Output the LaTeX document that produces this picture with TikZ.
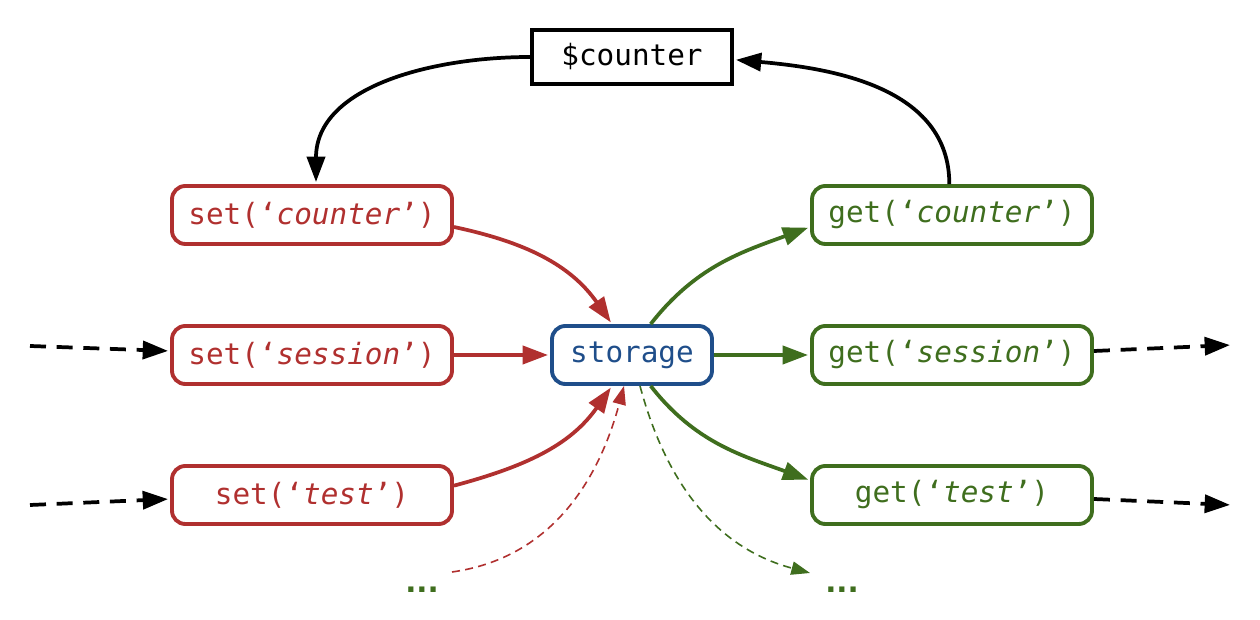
\documentclass[tikz,border=0pt]{standalone}
\usepackage{fontspec}
\setmonofont{DejaVu Sans Mono}
\newfontfamily\dotsfont{DejaVu Sans}
\usetikzlibrary{arrows.meta}
\definecolor{cred}{HTML}{B0302F}
\definecolor{cblue}{HTML}{1F4E8A}
\definecolor{cgreen}{HTML}{3F6E1E}
\begin{document}
\begin{tikzpicture}[x=0.75pt,y=0.75pt,
  box/.style={draw,line width=2.9pt,rounded corners=10pt,minimum width=210pt,minimum height=43.5pt,inner sep=0pt,font=\fontsize{22}{26}\selectfont\ttfamily},
  setbox/.style={box,draw=cred,text=cred},
  getbox/.style={box,draw=cgreen,text=cgreen},
  arr/.style={line width=2.8pt,shorten >=1.5pt,-{Triangle[length=19pt,width=13.5pt]}},
  thinarr/.style={line width=1.2pt,dash pattern=on 6pt off 4pt,-{Triangle[length=14pt,width=10pt]}},
  blackdash/.style={line width=2.8pt,dash pattern=on 12pt off 8pt,shorten >=1.5pt,-{Triangle[length=19pt,width=13.5pt]}},
  dots/.style={text=cgreen,font=\fontsize{22}{26}\selectfont\dotsfont\bfseries}
]
\useasboundingbox (0,0) rectangle (1260,620);
\node[draw,line width=2.9pt,minimum width=150pt,minimum height=41pt,inner sep=0pt,font=\fontsize{22}{26}\selectfont\ttfamily] (ctr) at (632,563) {\$counter};
\node[setbox] (setC) at (312,405) {set(‘\textit{counter}’)};
\node[setbox] (setS) at (312,265) {set(‘\textit{session}’)};
\node[setbox] (setT) at (312,125) {set(‘\textit{test}’)};
\node[box,draw=cblue,text=cblue,minimum width=120pt] (sto) at (632,265) {storage};
\node[getbox] (getC) at (952,405) {get(‘\textit{counter}’)};
\node[getbox] (getS) at (952,265) {get(‘\textit{session}’)};
\node[getbox] (getT) at (952,125) {get(‘\textit{test}’)};
\node[dots] (dL) at (422,30) {...};
\node[dots] (dR) at (842,30) {...};
\coordinate (lS) at (30,274);
\coordinate (lT) at (30,115);
\coordinate (rS) at (1232,275);
\coordinate (rT) at (1232,115);
\coordinate (redS) at (452,48);
\coordinate (grE) at (810,47);
% black
\draw[arr] (ctr.west) to[out=180,in=90] ([xshift=3pt]setC.north);
\draw[arr] ([xshift=-2pt]getC.north) to[out=90,in=-5] ([yshift=-2pt]ctr.east);
% red
\draw[arr,cred] ([yshift=-9pt]setC.east) to[out=-12,in=125] ([xshift=-15pt]sto.north);
\draw[arr,cred] (setS.east) -- (sto.west);
\draw[arr,cred] ([yshift=7pt]setT.east) to[out=15,in=-125] ([xshift=-15pt]sto.south);
\draw[thinarr,cred] (redS) to[out=8,in=-105] ([xshift=-6pt]sto.south);
% green
\draw[arr,cgreen] ([xshift=14pt]sto.north) to[out=52,in=200] ([yshift=-9pt]getC.west);
\draw[arr,cgreen] (sto.east) -- (getS.west);
\draw[arr,cgreen] ([xshift=14pt]sto.south) to[out=-52,in=160] ([yshift=11pt]getT.west);
\draw[thinarr,cgreen] ([xshift=6pt]sto.south) to[out=-75,in=165] (grE);
% black dashed
\draw[blackdash] (lS) -- ([yshift=3pt]setS.west);
\draw[blackdash] (lT) -- ([yshift=-3pt]setT.west);
\draw[blackdash] ([yshift=3pt]getS.east) -- (rS);
\draw[blackdash] ([yshift=-3pt]getT.east) -- (rT);
\end{tikzpicture}
\end{document}
